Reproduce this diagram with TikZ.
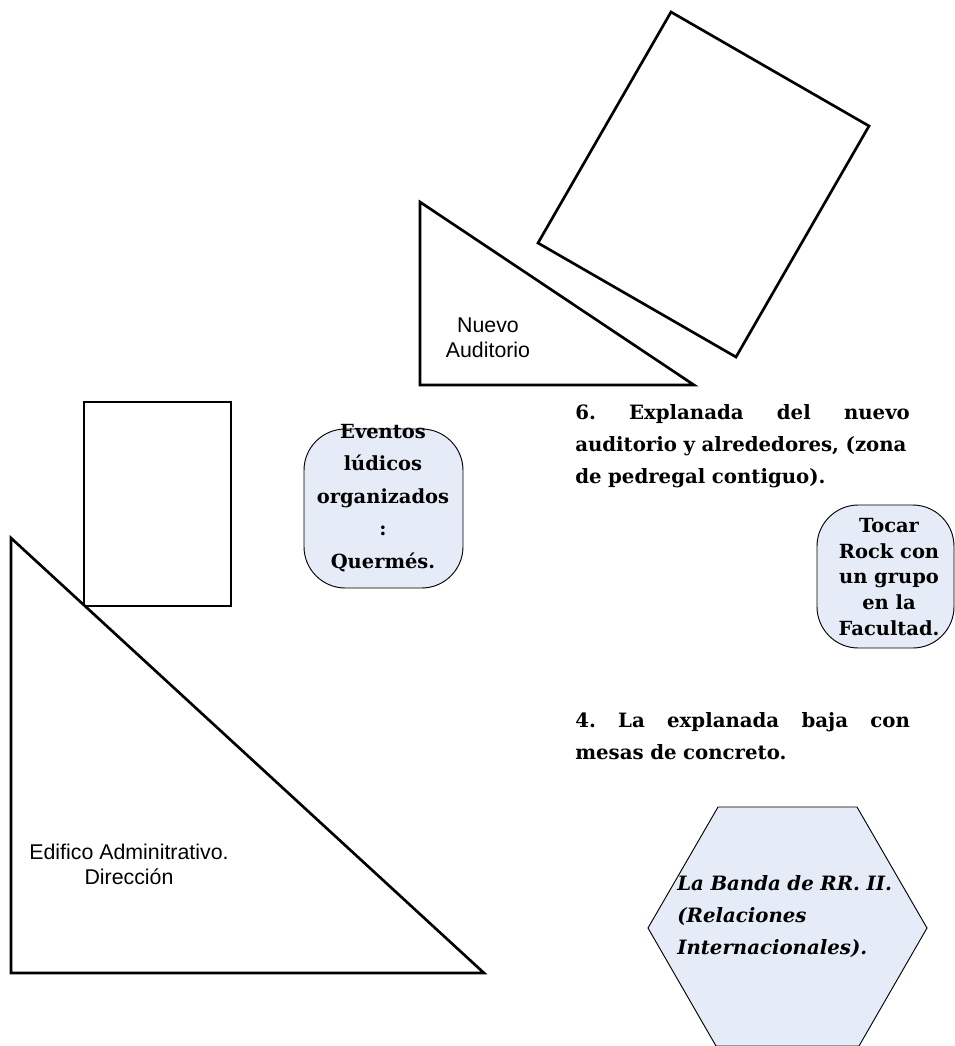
\documentclass[tikz,border=0pt]{standalone}
\usepackage{fontspec}
\setmainfont{Liberation Sans}
\newfontfamily\bookish{DejaVu Serif}
\definecolor{paleblue}{HTML}{E6ECF7}
\tikzset{
  x=0.75pt,y=-0.75pt,
  thick outline/.style={draw=black,line width=2pt,fill=white,line join=miter},
  bubble/.style={draw=black,line width=0.7pt,fill=paleblue},
  sanslabel/.style={font=\fontsize{16pt}{18.8pt}\selectfont,align=center,inner sep=0pt},
  serifnote/.style={font=\bookish\bfseries\fontsize{14.6pt}{24.4pt}\selectfont,align=center,inner sep=0pt},
  serifpara/.style={font=\bookish\bfseries\fontsize{14.8pt}{24pt}\selectfont,align=left,inner sep=0pt,anchor=west,text width=251pt}
}
\begin{document}
\begin{tikzpicture}
\useasboundingbox (0,0) rectangle (954,1046);
\draw[thick outline] (671,12) -- (869,126) -- (736,357) -- (538,243) -- cycle;
\draw[thick outline] (420,202) -- (694,385) -- (420,385) -- cycle;
\draw[thick outline] (84,402) rectangle (231,606);
\draw[thick outline] (11,538) -- (484,973) -- (11,973) -- cycle;
\node[sanslabel] (auditorio) at (488,338) {Nuevo\\Auditorio};
\node[sanslabel] (edificio) at (129,864) {Edifico Adminitrativo.\\Dirección};
\draw[bubble,rounded corners=31pt] (304,429) rectangle (463,588);
\node[serifnote] (eventos) at (383,498) {Eventos\\lúdicos\\organizados\\:\\Quermés.};
\draw[bubble,rounded corners=31pt] (817,505) rectangle (954,648);
\node[serifnote,font=\bookish\bfseries\fontsize{14.6pt}{19.2pt}\selectfont] (tocar) at (889,577) {Tocar\\Rock con\\un grupo\\en la\\Facultad.};
\node[serifpara] (seis) at (575,446) {6.\hfill Explanada\hfill del\hfill nuevo\\\mbox{auditorio y alrededores, (zona}\\de pedregal contiguo).};
\node[serifpara] (cuatro) at (575,736) {4.\hfill La\hfill explanada\hfill baja\hfill con\\mesas de concreto.};
\draw[bubble] (648,928) -- (718,807) -- (857,807) -- (927,928) -- (859,1046) -- (716,1046) -- cycle;
\node[serifpara,font=\bookish\bfseries\itshape\fontsize{14.8pt}{24pt}\selectfont] (banda) at (677,917) {La Banda de RR. II.\\(Relaciones\\Internacionales).};
\end{tikzpicture}
\end{document}
